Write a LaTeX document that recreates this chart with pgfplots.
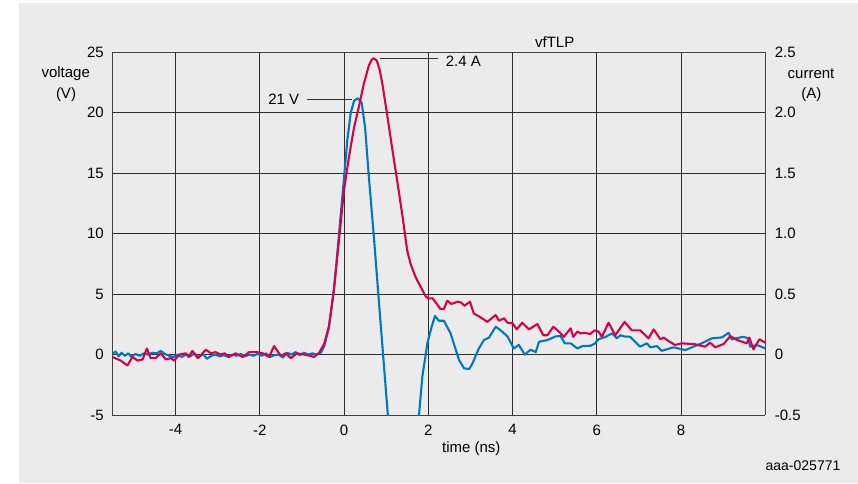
\documentclass[border=0pt]{standalone}
\usepackage{fontspec}
\setmainfont{Liberation Sans}
\usepackage{pgfplots}
\pgfplotsset{compat=1.18}

\definecolor{bggray}{RGB}{235,235,235}
\definecolor{vblue}{RGB}{0,120,190}
\definecolor{ired}{RGB}{215,0,75}

% voltage (V)
\pgfplotstableread{
t v
-5.5 0.05
-5.42 0.25
-5.35 -0.15
-5.28 0.15
-5.2 -0.1
-5.12 0.1
-5.05 -0.2
-4.95 0.05
-4.85 -0.1
-4.75 0.1
-4.65 0.0
-4.55 0.15
-4.45 0.1
-4.35 0.3
-4.25 0.05
-4.15 -0.1
-4.05 -0.2
-3.95 0.0
-3.85 -0.2
-3.75 0.0
-3.65 -0.15
-3.55 0.1
-3.45 -0.25
-3.35 0.05
-3.25 -0.35
-3.15 -0.1
-3.05 0.0
-2.95 -0.15
-2.85 -0.05
-2.75 -0.2
-2.65 0.0
-2.55 -0.1
-2.45 0.05
-2.35 -0.15
-2.25 0.0
-2.15 -0.1
-2.05 0.05
-1.95 -0.1
-1.85 0.1
-1.75 -0.2
-1.65 -0.05
-1.55 0.0
-1.45 -0.25
-1.35 0.15
-1.25 0.0
-1.15 0.2
-1.05 -0.05
-0.95 0.15
-0.85 0.0
-0.75 0.1
-0.65 0.0
-0.55 0.15
-0.47 0.7
-0.36 2.2
-0.24 5.4
-0.16 8.3
-0.08 11.5
0.0 14.6
0.08 17.8
0.16 20.0
0.24 21.0
0.33 21.2
0.42 20.8
0.5 18.8
0.59 14.7
0.71 9.7
0.83 4.3
0.95 -1.0
1.04 -5.0
1.15 -10
1.65 -10
1.78 -5.0
1.86 -1.8
1.98 0.95
2.08 2.3
2.16 3.2
2.25 2.8
2.37 2.8
2.53 1.75
2.73 -0.45
2.85 -1.14
2.97 -1.2
3.05 -0.73
3.2 0.5
3.32 1.2
3.44 1.4
3.6 2.3
3.72 2.0
3.88 1.5
4.03 0.5
4.15 0.8
4.29 0.0
4.43 0.4
4.55 0.2
4.63 1.06
4.83 1.2
5.02 1.5
5.14 1.53
5.24 0.93
5.38 0.93
5.54 0.5
5.66 0.7
5.85 0.73
5.95 0.9
6.04 1.26
6.2 1.45
6.36 1.75
6.48 1.34
6.56 1.6
6.65 1.5
6.79 1.47
7.03 0.65
7.19 0.93
7.27 0.6
7.43 0.7
7.54 0.31
7.82 0.6
8.1 0.37
8.26 0.6
8.49 0.93
8.73 1.34
8.97 1.42
9.13 1.8
9.2 1.26
9.48 1.47
9.6 1.34
9.64 0.65
9.8 0.79
10.0 0.51
}\voltage

% current (A)
\pgfplotstableread{
t i
-5.5 -0.02
-5.3 -0.05
-5.14 -0.09
-5.02 -0.02
-4.9 -0.05
-4.78 -0.04
-4.68 0.05
-4.59 -0.03
-4.47 -0.03
-4.35 0.01
-4.23 -0.04
-4.11 -0.03
-4.03 -0.05
-3.91 0.0
-3.75 0.01
-3.69 -0.02
-3.6 0.03
-3.47 -0.03
-3.28 0.04
-3.16 0.01
-3.05 0.02
-2.93 0.0
-2.83 0.01
-2.73 -0.02
-2.57 0.01
-2.41 -0.02
-2.25 0.02
-2.05 0.02
-1.93 0.01
-1.78 -0.02
-1.66 0.07
-1.5 -0.01
-1.38 0.01
-1.26 -0.03
-1.12 0.01
-0.95 0.0
-0.81 -0.01
-0.71 -0.02
-0.59 0.015
-0.47 0.09
-0.36 0.23
-0.24 0.53
-0.16 0.81
-0.08 1.085
0.0 1.36
0.12 1.64
0.24 1.88
0.36 2.06
0.47 2.24
0.59 2.39
0.66 2.44
0.71 2.45
0.78 2.43
0.85 2.35
0.91 2.24
1.03 1.97
1.15 1.69
1.27 1.42
1.39 1.14
1.5 0.86
1.58 0.75
1.7 0.64
1.82 0.56
1.94 0.48
2.0 0.465
2.1 0.465
2.2 0.42
2.29 0.376
2.37 0.376
2.45 0.445
2.55 0.418
2.69 0.437
2.78 0.43
2.86 0.404
2.99 0.437
3.08 0.34
3.24 0.308
3.4 0.27
3.6 0.327
3.68 0.28
3.8 0.3
3.88 0.263
4.0 0.26
4.1 0.208
4.23 0.263
4.39 0.208
4.59 0.252
4.73 0.16
4.83 0.16
4.97 0.23
5.1 0.19
5.22 0.147
5.38 0.217
5.44 0.147
5.54 0.19
5.62 0.175
5.72 0.18
5.84 0.17
5.95 0.2
6.04 0.19
6.12 0.147
6.28 0.263
6.44 0.16
6.66 0.27
6.83 0.2
7.03 0.2
7.23 0.134
7.35 0.208
7.51 0.126
7.59 0.14
7.71 0.11
7.86 0.079
8.02 0.093
8.33 0.085
8.57 0.065
8.69 0.098
8.81 0.06
9.01 0.087
9.17 0.153
9.33 0.12
9.56 0.093
9.62 0.14
9.72 0.043
9.86 0.126
10.0 0.098
}\current

\begin{document}
\begin{tikzpicture}[x=1pt,y=1pt,font=\fontsize{15}{18}\selectfont]
\useasboundingbox (0,0) rectangle (858,483);
\fill[white] (0,0) rectangle (858,483);
\fill[bggray] (19,0) rectangle (858,480);

\pgfplotsset{
  every axis/.append style={
    at={(112.3pt,68pt)}, anchor=south west,
    scale only axis, width=653pt, height=362.7pt,
    xmin=-5.5, xmax=10,
    major tick length=0pt,
    axis line style={black!75, line width=0.9pt},
    /pgf/number format/assume math mode=true,
    tick label style={font=\fontsize{15}{18}\selectfont},
  },
}

\begin{axis}[
  ymin=-5, ymax=25,
  ytick={-5,0,5,10,15,20,25},
  xtick={-4,-2,0,2,4,6,8},
  grid=major,
  major grid style={black!82, line width=0.9pt},
  yticklabel style={anchor=east, xshift=-5pt},
  xticklabel style={anchor=north, yshift=-6pt},
  axis y line*=left,
  axis x line*=box,
]
\addplot[vblue, line width=2.1pt, line join=round] table[x=t, y=v] {\voltage};
\end{axis}

\begin{axis}[
  ymin=-0.5, ymax=2.5,
  axis y line*=right,
  axis x line=none,
  ytick={-0.5,0,0.5,1.0,1.5,2.0,2.5},
  yticklabels={-0.5,0,0.5,1.0,1.5,2.0,2.5},
  yticklabel style={anchor=west, xshift=6pt},
]
\addplot[ired, line width=2.1pt, line join=round] table[x=t, y=i] {\current};
\end{axis}

% axis titles and annotations
\node at (554.7,441.3) {vfTLP};
\node at (65.7,409) {voltage};
\node at (66,388.3) {(V)};
\node at (811,409) {current};
\node at (811.3,388.3) {(A)};
\node at (471.3,34.7) {time (ns)};
\node at (803,17) {\fontsize{14}{16}\selectfont aaa-025771};
\node at (283.8,384) {21 V};
\draw[black!80, line width=0.8pt] (306.7,384) -- (352.3,384);
\node at (463.3,421.3) {2.4 A};
\draw[black!80, line width=0.8pt] (380,424.7) -- (437.7,424.7);
\end{tikzpicture}
\end{document}
